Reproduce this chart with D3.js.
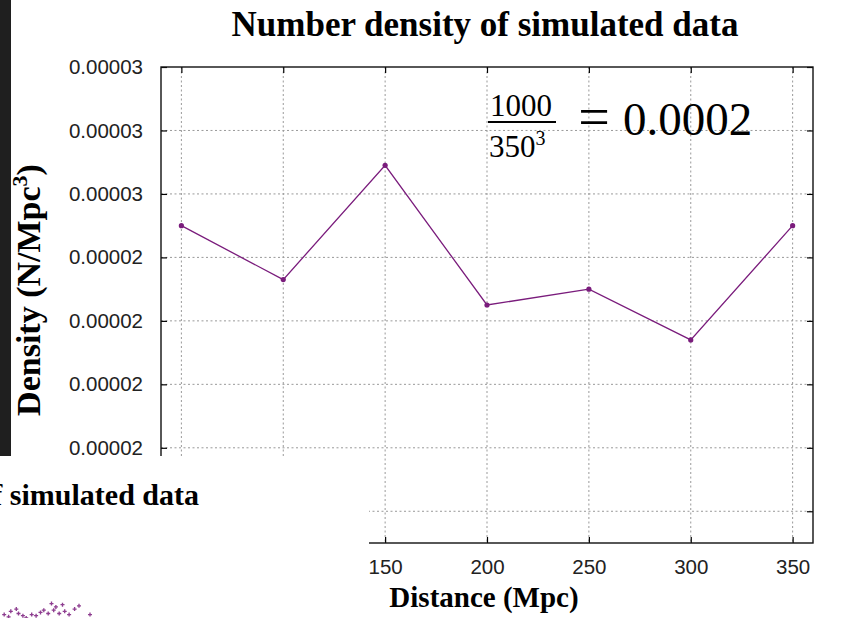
<!DOCTYPE html>
<html>
<head>
<meta charset="utf-8">
<script src="https://cdn.jsdelivr.net/npm/d3@7"></script>
<style>
  html, body { margin: 0; padding: 0; background: #fff; }
  svg { display: block; }
</style>
</head>
<body>
<svg id="chart" width="846" height="618"></svg>
<script>
// Number density per distance bin
const distances = [50, 100, 150, 200, 250, 300, 350];
const density = [2.55e-5, 2.465e-5, 2.645e-5, 2.425e-5, 2.45e-5, 2.37e-5, 2.55e-5];

// Axis ticks (gnuplot-style 5-decimal labels)
const xTicks = [50, 100, 150, 200, 250, 300, 350];
const yTicks = [2.1e-5, 2.2e-5, 2.3e-5, 2.4e-5, 2.5e-5, 2.6e-5, 2.7e-5, 2.8e-5];
const yTickLabels = ["0.00002", "0.00002", "0.00002", "0.00002", "0.00002", "0.00003", "0.00003", "0.00003"];

// A few simulated positions peeking in from the scatter panel
const simX = [2, 8, 13, 15, 19, 27, 35, 38, 42, 45, 47, 52, 57, 61, 80, 6, 22, 31, 49, 66, 70, 55];
const simY = [4, 7, 9, 5, 3, 4, 6, 8, 5, 14, 8, 5, 7, 4, 4, 2, 1, 3, 11, 9, 12, 13];

const svg = d3.select("#chart");
const serif = "'Liberation Serif', 'Times New Roman', serif";
const sans = "'Liberation Sans', Arial, sans-serif";
const purple = "#7a1c7c";

const x = d3.scaleLinear().domain([40, 360]).range([161, 813]);
const y = d3.scaleLinear().domain([2.05e-5, 2.8e-5]).range([543, 67]);

// lower-left panel that sits over the plot (scatter view)
const panelBox = { x: 0, y: 456, w: 369, h: 162 };
const underPanel = (px, py) => px < panelBox.x + panelBox.w && py > panelBox.y;

const plot = svg.append("g");

// dotted grid
plot.append("g").selectAll("line").data(xTicks).join("line")
  .attr("x1", d => x(d)).attr("x2", d => x(d))
  .attr("y1", y.range()[1]).attr("y2", y.range()[0])
  .attr("stroke", "#999").attr("stroke-width", 1).attr("stroke-dasharray", "2,2.5");
plot.append("g").selectAll("line").data(yTicks.slice(0, -1)).join("line")
  .attr("x1", x.range()[0]).attr("x2", x.range()[1])
  .attr("y1", d => y(d)).attr("y2", d => y(d))
  .attr("stroke", "#999").attr("stroke-width", 1).attr("stroke-dasharray", "2,2.5");

// annotation inside the plot
const ann = plot.append("g").attr("font-family", serif).attr("fill", "#000");
ann.append("text").attr("x", 521).attr("y", 116).attr("text-anchor", "middle")
  .attr("font-size", 31).text("1000");
ann.append("line").attr("x1", 488).attr("x2", 556).attr("y1", 122).attr("y2", 122)
  .attr("stroke", "#000").attr("stroke-width", 1.8);
const den = ann.append("text").attr("x", 489).attr("y", 157).attr("font-size", 31);
den.append("tspan").text("350");
den.append("tspan").attr("font-size", 20).attr("dy", -12).text("3");
ann.append("text").attr("x", 594).attr("y", 136).attr("text-anchor", "middle")
  .attr("font-size", 56).text("=");
ann.append("text").attr("x", 623).attr("y", 135).attr("font-size", 47).text("0.0002");

// series
const line = d3.line().x((d, i) => x(distances[i])).y(d => y(d));
plot.append("path").datum(density).attr("d", line)
  .attr("fill", "none").attr("stroke", purple).attr("stroke-width", 1.3);
plot.append("g").selectAll("circle").data(density).join("circle")
  .attr("cx", (d, i) => x(distances[i])).attr("cy", d => y(d)).attr("r", 2.6)
  .attr("fill", purple);

// axes with inward ticks
const axL = plot.append("g").attr("transform", `translate(${x.range()[0]},0)`)
  .call(d3.axisLeft(y).tickValues(yTicks).tickFormat((d, i) => yTickLabels[i])
    .tickSize(-6).tickPadding(18));
const axB = plot.append("g").attr("transform", `translate(0,${y.range()[0]})`)
  .call(d3.axisBottom(x).tickValues(xTicks).tickFormat(d3.format("d"))
    .tickSize(-6).tickPadding(16));
plot.append("g").attr("transform", `translate(${x.range()[1]},0)`)
  .call(d3.axisRight(y).tickValues(yTicks).tickFormat("").tickSize(-6));
plot.append("g").attr("transform", `translate(0,${y.range()[1]})`)
  .call(d3.axisTop(x).tickValues(xTicks).tickFormat("").tickSize(-6));
plot.selectAll(".domain").remove();
plot.selectAll(".tick line").attr("stroke", "#000").attr("stroke-width", 1.2);
[axL, axB].forEach(a => a.selectAll("text")
  .attr("font-family", sans).attr("font-size", 20.5).attr("fill", "#222"));
// labels that the panel covers are not drawn
axL.selectAll(".tick").filter(d => underPanel(x.range()[0] - 40, y(d))).select("text").remove();
axB.selectAll(".tick").filter(d => underPanel(x(d), y.range()[0] + 20)).select("text").remove();

// frame
plot.append("rect")
  .attr("x", x.range()[0]).attr("y", y.range()[1])
  .attr("width", x.range()[1] - x.range()[0]).attr("height", y.range()[0] - y.range()[1])
  .attr("fill", "none").attr("stroke", "#111").attr("stroke-width", 1.4);

// titles
svg.append("text").attr("x", 485).attr("y", 36).attr("text-anchor", "middle")
  .attr("font-family", serif).attr("font-weight", "bold").attr("font-size", 35)
  .text("Number density of simulated data");
svg.append("text").attr("x", 484).attr("y", 607).attr("text-anchor", "middle")
  .attr("font-family", serif).attr("font-weight", "bold").attr("font-size", 29)
  .text("Distance (Mpc)");

const yl = svg.append("text").attr("transform", "translate(40,290) rotate(-90)")
  .attr("text-anchor", "middle")
  .attr("font-family", serif).attr("font-weight", "bold").attr("font-size", 34);
yl.append("tspan").text("Density (N/Mpc");
yl.append("tspan").attr("font-size", 22).attr("dy", -13).text("3");
yl.append("tspan").attr("dy", 13).text(")");

// dark edge along the left
svg.append("rect").attr("x", 0).attr("y", 0).attr("width", 11).attr("height", panelBox.y)
  .attr("fill", "#1f1f1f");

// lower-left panel: title of the scatter view and its points
const panel = svg.append("g");
panel.append("rect").attr("x", panelBox.x).attr("y", panelBox.y)
  .attr("width", panelBox.w).attr("height", panelBox.h).attr("fill", "#fff");
panel.append("text").attr("x", 199).attr("y", 505).attr("text-anchor", "end")
  .attr("font-family", serif).attr("font-weight", "bold").attr("font-size", 30)
  .text("f simulated data");
const sx = d3.scaleLinear().domain([0, 100]).range([2, 112]);
const sy = d3.scaleLinear().domain([0, 20]).range([619, 597]);
const sym = d3.symbol().type(d3.symbolCross).size(9);
panel.append("g").selectAll("path").data(simX).join("path")
  .attr("transform", (d, i) => `translate(${sx(d)},${sy(simY[i])})`)
  .attr("d", sym).attr("fill", purple).attr("opacity", 0.85);
</script>
</body>
</html>
